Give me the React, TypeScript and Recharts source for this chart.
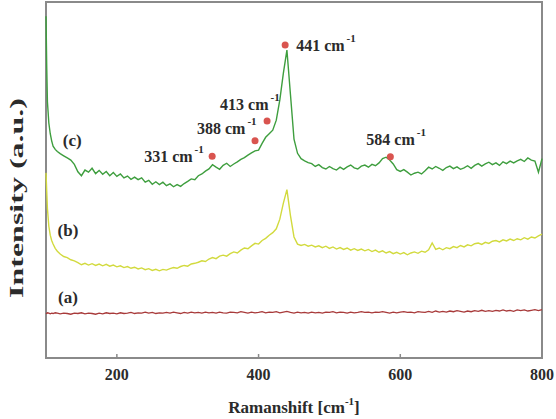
import { LineChart, Line, XAxis, YAxis, ReferenceDot, ReferenceArea } from "recharts";

// Raman shift (cm-1), shared by all three spectra
const ramanShift = [
  100, 101, 102, 104, 106, 108, 110, 113, 116,
  120, 125, 130, 135, 140, 145, 150, 155, 160, 165,
  170, 175, 180, 185, 190, 195, 200, 205, 210, 215,
  220, 225, 230, 235, 240, 245, 250, 255, 260, 265,
  270, 275, 280, 285, 290, 295, 300, 305, 310, 315,
  320, 325, 330, 335, 340, 345, 350, 355, 360, 365,
  370, 375, 380, 385, 390, 395, 400, 405, 410, 415,
  420, 425, 430, 435, 440, 445, 450, 455, 460, 465,
  470, 475, 480, 485, 490, 495, 500, 505, 510, 515,
  520, 525, 530, 535, 540, 545, 550, 555, 560, 565,
  570, 575, 580, 585, 590, 595, 600, 605, 610, 615,
  620, 625, 630, 635, 640, 645, 650, 655, 660, 665,
  670, 675, 680, 685, 690, 695, 700, 705, 710, 715,
  720, 725, 730, 735, 740, 745, 750, 755, 760, 765,
  770, 775, 780, 785, 790, 795, 800,
];

// (a) flat, dark red
const sampleA = [
  12.6, 12.5, 12.7, 12.6, 12.4, 12.6, 12.5, 12.7, 12.6,
  12.4, 12.6, 12.5, 12.3, 12.6, 12.5, 12.7, 12.4, 12.6, 12.5,
  12.3, 12.6, 12.4, 12.7, 12.5, 12.6, 12.4, 12.7, 12.5, 12.6,
  12.8, 12.5, 12.7, 12.6, 12.9, 12.6, 12.8, 12.5, 12.7, 12.6,
  12.8, 12.6, 12.9, 12.7, 12.5, 12.8, 12.6, 12.9, 12.7, 12.8,
  12.6, 12.9, 12.7, 12.8, 12.6, 12.9, 12.7, 12.6, 12.9, 12.8,
  12.7, 13.0, 12.8, 12.6, 12.9, 12.7, 12.8, 13.0, 12.7, 12.9,
  12.8, 13.0, 12.7, 12.9, 13.1, 12.8, 12.6, 12.9, 12.7, 12.8,
  12.6, 12.9, 12.7, 12.8, 12.6, 12.9, 12.8, 13.0, 12.7, 12.9,
  12.8, 12.6, 12.9, 12.7, 12.8, 13.0, 12.8, 12.9, 12.7, 12.9,
  12.8, 13.0, 12.8, 12.6, 12.9, 12.7, 12.9, 13.0, 12.8, 12.9,
  12.7, 13.0, 12.9, 12.8, 13.1, 12.8, 13.2, 12.9, 13.1, 12.9,
  13.2, 13.0, 13.3, 13.1, 12.9, 13.2, 13.0, 13.3, 13.1, 13.4,
  13.1, 13.3, 13.1, 13.4, 13.2, 13.5, 13.2, 13.4, 13.1, 13.5,
  13.3, 13.5, 13.2, 13.4, 13.6, 13.3, 13.6,
];

// (b) yellow
const sampleB = [
  52, 47, 42, 37, 34.5, 33, 32, 30.8, 30,
  29.2, 28.5, 28.2, 27.6, 27.3, 26.8, 26.2, 26.6, 26.1, 26.5,
  26, 26.4, 25.9, 26.3, 25.8, 26.1, 25.6, 25.9, 25.4, 25.7,
  25.2, 25.5, 25, 25.3, 24.8, 25.1, 24.6, 24.9, 24.5, 24.9,
  24.7, 25.1, 25.4, 25.2, 25.7, 26, 25.8, 26.4, 26.6, 26.9,
  27.3, 27.1, 27.8, 28.2, 27.9, 28.6, 28.9, 28.6, 29.3, 29.8,
  29.5, 30.3, 30.9, 30.7, 31.5, 32.2, 32, 33, 33.6, 34.5,
  35.2, 36.3, 39, 43.5, 47.3, 40, 34, 32, 31.6, 31.9,
  31.4, 31.7, 31.2, 31.5, 31, 31.4, 30.8, 31.2, 30.6, 31,
  30.5, 30.9, 30.3, 30.7, 30.2, 30.6, 30.1, 30.5, 29.9, 30.3,
  29.7, 30.1, 29.5, 29.9, 29.3, 29.7, 29.2, 29.6, 29, 29.5,
  29.8, 29.4, 30, 29.7, 30.4, 32.3, 30.5, 30.9, 30.4, 31,
  30.7, 31.3, 31, 31.6, 31.2, 31.8, 31.5, 32.1, 32.3, 31.9,
  32.5, 32.2, 32.8, 33, 32.6, 33.2, 32.9, 33.4, 33, 33.5,
  33.2, 33.8, 33.4, 34, 33.7, 34.3, 34.8,
];

// (c) green
const sampleC = [
  96, 82, 72, 66, 63, 61, 59.5, 58.6, 58,
  57.4, 56.8, 56.2, 55.6, 54.4, 52.3, 51.2, 52.8, 52.2, 53.3,
  51.8, 52.7, 51.6, 52.4, 51.2, 52.1, 51, 51.7, 50.6, 51.1,
  50.2, 50.8, 50.1, 50.6, 49.4, 49.9, 48.8, 49.5, 48.7, 49.4,
  48.4, 48.9, 48.1, 48.7, 48.2, 49, 49.6, 50.3, 50.1, 51.2,
  51.7, 52.5, 53.1, 54.3, 53.6, 53, 54.1, 54.7, 53.8, 54.5,
  55.1, 55.8, 56.3, 57, 57.6, 58.2, 58.4, 60.3, 62, 63,
  64, 66.8, 72.5, 80, 86.5, 74, 61.5, 57.5, 56, 55.4,
  54.9, 54.6, 53.8, 54.3, 53.5, 53.1, 53.8, 53.2, 52.8, 53.6,
  53, 53.7, 54.2, 53.4, 53.1, 53.9, 54.2, 53.6, 54.4, 54,
  54.8, 56, 56.4, 55.6, 54.5, 52.9, 52.4, 52.9, 52.2, 51.4,
  51.9, 52.2, 51.7, 52.6, 53.6, 53.1, 53.8, 53.3, 52.7, 53.5,
  53.9, 53.2, 53.7, 53, 53.4, 54, 53.3, 54.1, 54.6, 53.9,
  54.5, 55, 54.3, 54.8, 54.1, 55.1, 54.6, 55.3, 54.8, 55.4,
  55.8, 55.2, 56.2, 55.6, 55.3, 52.2, 56,
];

const peakNames = ["331", "388", "413", "441", "584"];
const peakShift = [334.5, 395, 412, 437.5, 586];
const peakLevel = [56.7, 61, 66.6, 87.9, 56.5];

const curveTags = ["(a)", "(b)", "(c)"];
const tagShift = [131, 131, 137];
const tagLevel = [17.1, 36, 61.2];

const xTicks = [200, 400, 600, 800];

const data = ramanShift.map((x, i) => ({ x, a: sampleA[i], b: sampleB[i], c: sampleC[i] }));

// where each peak label sits relative to its dot (px)
const peakOffsets = [
  { dx: -68, dy: 5.5 },
  { dx: -58, dy: -7 },
  { dx: -47, dy: -10.5 },
  { dx: 11, dy: 6 },
  { dx: -24, dy: -11.5 },
];

const FONT = '"Liberation Serif", "Times New Roman", serif';
const INK = "#2b2b2b";
const FRAME = "#8a8a8a";

const peakLabel = (i: number) => (props: any) => {
  const vb = props.viewBox || {};
  const cx = vb.x + (vb.width || 0) / 2;
  const cy = vb.y + (vb.height || 0) / 2;
  const o = peakOffsets[i];
  return (
    <text x={cx + o.dx} y={cy + o.dy} fontFamily={FONT} fontWeight="bold" fontSize={16} fill={INK}>
      {peakNames[i]} cm
      <tspan dx={2} dy={-9} fontSize={11}>-1</tspan>
    </text>
  );
};

const xTitle = (props: any) => {
  const vb = props.viewBox;
  return (
    <text x={vb.x + vb.width / 2} y={vb.y + 55} textAnchor="middle" fontFamily={FONT} fontWeight="bold" fontSize={17} fill={INK}>
      Ramanshift [cm
      <tspan dy={-8} fontSize={11}>-1</tspan>
      <tspan dy={8}>]</tspan>
    </text>
  );
};

const yTitle = (props: any) => {
  const vb = props.viewBox;
  const x = vb.x - 29;
  const y = vb.y + vb.height / 2 + 18;
  return (
    <text
      x={x}
      y={y}
      transform={`rotate(-90, ${x}, ${y})`}
      textAnchor="middle"
      dominantBaseline="central"
      fontFamily={FONT}
      fontWeight="bold"
      fontSize={19}
      fill={INK}
      textLength={200}
      lengthAdjust="spacingAndGlyphs"
    >
      Intensity (a.u.)
    </text>
  );
};

const App = () => {
  return (
    <div style={{ position: "absolute", left: 0, top: 0, background: "#fff" }}>
      <LineChart width={556} height={419} data={data} margin={{ top: 2, right: 14, bottom: 31, left: 45 }}>
        <ReferenceArea x1={100} x2={800} y1={0} y2={100} fill="none" stroke={FRAME} strokeWidth={2} />
        <XAxis
          dataKey="x"
          type="number"
          domain={[100, 800]}
          ticks={xTicks}
          height={30}
          axisLine={{ stroke: FRAME, strokeWidth: 2 }}
          tickLine={{ stroke: FRAME, strokeWidth: 1.5 }}
          tickSize={-4}
          tickMargin={15}
          tick={{ fontFamily: FONT, fontWeight: "bold", fontSize: 16, fill: INK }}
          label={{ content: xTitle }}
        />
        <YAxis
          type="number"
          domain={[0, 100]}
          width={1}
          tick={false}
          axisLine={false}
          tickLine={false}
          label={{ content: yTitle }}
        />
        <Line dataKey="a" stroke="#a83a3a" strokeWidth={1.3} dot={false} isAnimationActive={false} />
        <Line dataKey="b" stroke="#d2da3e" strokeWidth={1.4} dot={false} isAnimationActive={false} />
        <Line dataKey="c" stroke="#3e9e3e" strokeWidth={1.4} dot={false} isAnimationActive={false} />
        {curveTags.map((t, i) => (
          <ReferenceDot
            key={t}
            x={tagShift[i]}
            y={tagLevel[i]}
            r={0}
            fill="none"
            stroke="none"
            label={{ value: t, position: "center", fontFamily: FONT, fontWeight: "bold", fontSize: 17, fill: INK }}
          />
        ))}
        {peakNames.map((p, i) => (
          <ReferenceDot
            key={p}
            x={peakShift[i]}
            y={peakLevel[i]}
            r={3.5}
            fill="#d9544f"
            stroke="none"
            label={peakLabel(i)}
          />
        ))}
      </LineChart>
    </div>
  );
};

export default App;
